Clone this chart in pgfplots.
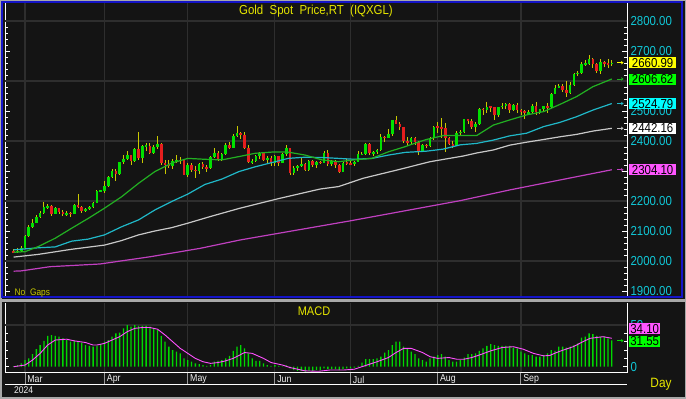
\documentclass[border=0pt]{standalone}
\usepackage{pgfplots}
\pgfplotsset{compat=1.18}
\usepackage{pgfplotstable}
\usepackage{fontspec}
\setmainfont{Liberation Sans}
\newfontfamily\uif{Liberation Sans}[FakeStretch=0.88]
\usetikzlibrary{arrows.meta}
\definecolor{bg}{HTML}{141414}
\definecolor{gridc}{HTML}{2E2E2E}
\definecolor{frameblue}{HTML}{1414C8}
\definecolor{outer}{HTML}{A8A8A8}
\definecolor{upc}{HTML}{00E000}
\definecolor{dnc}{HTML}{E61E1E}
\definecolor{wick}{HTML}{C8C800}
\definecolor{ma20}{HTML}{22B022}
\definecolor{ma50}{HTML}{20B8C8}
\definecolor{ma100}{HTML}{C8C8C8}
\definecolor{ma200}{HTML}{C040C0}
\definecolor{labc}{HTML}{10C8D8}
\definecolor{ttl}{HTML}{E6E600}
\definecolor{boxy}{HTML}{FFFF00}
\definecolor{boxg}{HTML}{00FF00}
\definecolor{boxc}{HTML}{00FFFF}
\definecolor{boxm}{HTML}{FF55FF}
\definecolor{histc}{HTML}{00D800}
\definecolor{sigc}{HTML}{FF50FF}

\pgfplotstableread{
i o h l c
0 2032 2040 2025 2030
1 2030 2042 2025 2034
2 2034 2050 2030 2044
3 2044 2088 2040 2083
4 2083 2119 2080 2114
5 2114 2141 2110 2128
6 2128 2152 2125 2148
7 2148 2165 2142 2160
8 2160 2195 2155 2179
9 2179 2189 2174 2182
10 2182 2185 2150 2158
11 2158 2180 2155 2175
12 2175 2178 2155 2162
13 2162 2170 2150 2156
14 2156 2165 2150 2160
15 2160 2163 2146 2157
16 2157 2190 2155 2186
17 2186 2222 2175 2181
18 2181 2183 2160 2166
19 2166 2176 2163 2172
20 2172 2184 2170 2179
21 2179 2196 2175 2194
22 2194 2236 2192 2233
23 2233 2236 2230 2234
24 2234 2266 2228 2251
25 2251 2284 2245 2280
26 2280 2305 2275 2300
27 2300 2305 2268 2291
28 2291 2331 2286 2330
29 2330 2354 2323 2339
30 2339 2365 2335 2352
31 2352 2354 2320 2333
32 2333 2378 2329 2372
33 2372 2431 2336 2344
34 2344 2385 2325 2383
35 2383 2394 2367 2383
36 2383 2393 2355 2361
37 2361 2385 2355 2379
38 2379 2417 2372 2391
39 2391 2392 2320 2327
40 2327 2335 2291 2322
41 2322 2337 2309 2316
42 2316 2339 2307 2332
43 2332 2352 2328 2337
44 2337 2348 2323 2335
45 2335 2336 2285 2286
46 2286 2325 2281 2320
47 2320 2326 2295 2303
48 2303 2318 2278 2301
49 2301 2326 2291 2323
50 2323 2330 2307 2314
51 2314 2320 2298 2309
52 2309 2351 2306 2346
53 2346 2378 2344 2360
54 2360 2365 2332 2336
55 2336 2360 2334 2358
56 2358 2393 2354 2386
57 2386 2398 2372 2376
58 2376 2422 2375 2415
59 2415 2450 2412 2425
60 2425 2431 2407 2420
61 2420 2429 2374 2378
62 2378 2386 2325 2329
63 2329 2340 2322 2334
64 2334 2352 2330 2350
65 2350 2363 2340 2361
66 2361 2364 2334 2338
67 2338 2350 2323 2343
68 2343 2349 2316 2327
69 2327 2353 2315 2350
70 2350 2351 2315 2326
71 2326 2359 2325 2355
72 2355 2388 2350 2375
73 2375 2378 2287 2294
74 2294 2315 2286 2311
75 2311 2320 2299 2316
76 2316 2342 2312 2324
77 2324 2328 2300 2304
78 2304 2336 2301 2333
79 2333 2335 2313 2319
80 2319 2333 2310 2329
81 2329 2333 2324 2328
82 2328 2365 2327 2360
83 2360 2369 2316 2322
84 2322 2335 2317 2334
85 2334 2336 2309 2320
86 2320 2323 2293 2298
87 2298 2330 2297 2327
88 2327 2340 2319 2326
89 2326 2335 2319 2322
90 2322 2333 2318 2330
91 2330 2365 2329 2356
92 2356 2363 2352 2356
93 2356 2393 2353 2391
94 2391 2393 2353 2359
95 2359 2366 2351 2364
96 2364 2374 2355 2371
97 2371 2424 2368 2414
98 2414 2418 2396 2411
99 2411 2440 2410 2422
100 2422 2470 2415 2469
101 2469 2483 2456 2458
102 2458 2464 2437 2445
103 2445 2446 2393 2400
104 2400 2412 2384 2396
105 2396 2412 2385 2409
106 2409 2412 2385 2397
107 2397 2401 2353 2364
108 2364 2390 2364 2386
109 2386 2391 2376 2384
110 2384 2412 2380 2410
111 2410 2451 2403 2447
112 2447 2463 2428 2446
113 2446 2477 2410 2443
114 2443 2461 2364 2409
115 2409 2412 2388 2391
116 2391 2400 2377 2383
117 2383 2432 2382 2428
118 2428 2436 2417 2431
119 2431 2473 2428 2472
120 2472 2474 2458 2466
121 2466 2474 2441 2447
122 2447 2462 2431 2456
123 2456 2509 2453 2507
124 2507 2510 2485 2504
125 2504 2531 2493 2514
126 2514 2514 2496 2512
127 2512 2512 2471 2485
128 2485 2513 2480 2512
129 2512 2528 2505 2518
130 2518 2527 2508 2524
131 2524 2526 2494 2504
132 2504 2523 2499 2521
133 2521 2525 2494 2503
134 2503 2506 2488 2500
135 2500 2504 2472 2493
136 2493 2503 2485 2495
137 2495 2523 2490 2516
138 2516 2529 2485 2497
139 2497 2508 2490 2506
140 2506 2517 2500 2516
141 2516 2525 2493 2512
142 2512 2560 2510 2558
143 2558 2586 2555 2578
144 2578 2590 2575 2582
145 2582 2589 2564 2569
146 2569 2600 2546 2559
147 2559 2596 2557 2586
148 2586 2625 2584 2622
149 2622 2634 2615 2628
150 2628 2664 2624 2657
151 2657 2670 2650 2657
152 2657 2685 2652 2672
153 2672 2675 2643 2658
154 2658 2659 2625 2634
155 2634 2673 2624 2662
156 2662 2666 2647 2658
157 2658 2672 2642 2656
158 2656 2669 2651 2661
}\ohlc

\pgfplotstableread{
i m
0 0.8
1 2
2 4
3 8
4 10
5 15
6 21
7 26
8 31
9 37
10 38
11 37
12 36
13 34
14 32
15 30
16 31
17 30
18 29
19 26
20 25
21 24
22 25
23 27
24 30
25 32
26 36
27 40
28 41
29 46
30 50
31 48
32 50
33 49
34 49
35 49
36 48
37 46
38 44
39 37
40 30
41 24
42 20
43 18
44 16
45 10
46 8
47 6
48 4
49 3
50 2
51 1
52 2
53 6
54 7
55 8
56 10
57 13
58 19
59 24
60 26
61 22
62 16
63 10
64 7
65 7
66 4
67 2
68 1
69 2
70 1
71 0.5
72 1.5
73 -2
74 -4
75 -5
76 -5
77 -6
78 -5
79 -5
80 -4
81 -4
82 -2
83 -3
84 -3
85 -3
86 -4
87 -3
88 -2
89 -2
90 -1
91 1
92 5
93 9
94 9
95 9
96 10
97 12
98 17
99 20
100 26
101 30
102 30
103 24
104 21
105 18
106 15
107 10
108 8
109 6
110 10
111 12
112 14
113 15
114 12
115 8
116 6
117 6
118 8
119 11
120 15
121 15
122 16
123 19
124 22
125 25
126 27
127 26
128 25
129 25
130 25
131 25
132 23
133 22
134 18
135 16
136 14
137 14
138 12
139 12
140 14
141 16
142 20
143 19
144 24
145 24
146 23
147 24
148 26
149 28
150 35
151 36
152 40
153 39
154 37
155 36
156 36
157 34
158 31.55
}\macd

\begin{document}
\begin{tikzpicture}[x=1pt,y=1pt]
\useasboundingbox (0,0) rectangle (686,399);
\fill[bg] (0,0) rectangle (686,399);

\begin{axis}[
  at={(5.2pt,395.5pt)}, anchor=north west,
  width=621.8pt, height=293.5pt, scale only axis,
  xmin=-2.229, xmax=162.01, ymin=1880, ymax=2858.3,
  clip=false,
  separate axis lines,
  x axis line style={draw=none},
  y axis line style={draw=white, line width=1pt},
  xtick={3,24,46,69,89,112,134}, xticklabels={},
  xtick style={draw=none},
  xmajorgrids,
  grid style={draw=gridc, line width=1.2pt},
  ytick={1900,2000,2100,2200,2300,2400,2500,2600,2700,2800},
  yticklabels={1900.00,2000.00,2100.00,2200.00,,2400.00,2500.00,,2700.00,2800.00},
  minor y tick num=4,
  ytick pos=both, yticklabel pos=right,
  tick align=inside,
  major tick length=5pt, minor tick length=3pt,
  every tick/.style={draw=white, line width=0.8pt},
  extra y ticks={2000,2200,2400,2600,2800},
  extra y tick labels={},
  extra y tick style={grid=major, major tick length=0pt},
  yticklabel style={font=\uif\fontsize{13}{15}\selectfont, text=labc},
]
% wicks
\addplot[draw=none, mark=none, error bars/.cd, y dir=both, y explicit, error mark=none,
  error bar style={draw=wick, line width=0.9pt}]
  table[x=i, y expr={(\thisrow{h}+\thisrow{l})/2}, y error expr={(\thisrow{h}-\thisrow{l})/2}] {\ohlc};
% up bodies
\addplot[draw=none, mark=none, restrict expr to domain={\thisrow{c}-\thisrow{o}}{0:1000},
  error bars/.cd, y dir=both, y explicit, error mark=none,
  error bar style={draw=upc, line width=2.6pt}]
  table[x=i, y expr={(\thisrow{o}+\thisrow{c})/2}, y error expr={max(abs(\thisrow{c}-\thisrow{o})/2,2)}] {\ohlc};
% down bodies
\addplot[draw=none, mark=none, restrict expr to domain={\thisrow{c}-\thisrow{o}}{-1000:-0.5},
  error bars/.cd, y dir=both, y explicit, error mark=none,
  error bar style={draw=dnc, line width=2.6pt}]
  table[x=i, y expr={(\thisrow{o}+\thisrow{c})/2}, y error expr={max(abs(\thisrow{c}-\thisrow{o})/2,2)}] {\ohlc};
% 200-day
\addplot[ma200, line width=1.2pt, mark=none] coordinates {
(0,1966) (2,1967) (9.6,1981) (22.8,1990) (36,2014) (49.2,2042) (59.8,2070) (89,2134) (117.9,2201) (131.1,2237) (144.3,2270) (158,2304.1)};
% 100-day
\addplot[ma100, line width=1.2pt, mark=none] coordinates {
(0,2013) (6.5,2022) (15.3,2039) (24,2053) (28.5,2068) (33,2087) (37.3,2100) (41.7,2111) (46,2126) (51.9,2148) (59.8,2176) (70,2208) (81,2240) (85.8,2248) (92.4,2276) (101.2,2303) (110,2331) (118.8,2350) (122.3,2360) (126.7,2370) (131,2386) (135.5,2396) (140,2405) (144.3,2414) (148.7,2422) (153,2433) (158,2442.2)};
% 50-day
\addplot[ma50, line width=1.2pt, mark=none] coordinates {
(0,2037) (6.5,2044) (11,2047) (15.3,2066) (19.7,2073) (24,2087) (28.5,2114) (33,2137) (37.3,2170) (41.7,2198) (46,2223) (50.5,2255) (55,2273) (59.5,2298) (63.8,2314) (68.2,2328) (72.5,2342) (77,2346) (81.4,2345) (85.8,2342) (90,2339) (94.6,2342) (99,2353) (103.4,2362) (109,2366) (113.5,2373) (117.9,2387) (122.3,2392) (126.7,2403) (131,2417) (135.5,2426) (140,2448) (144.3,2462) (148.7,2481) (153,2503) (158,2524.8)};
% 20-day
\addplot[ma20, line width=1.2pt, mark=none] coordinates {
(0,2029) (3,2031) (6.5,2048) (11,2076) (15.3,2109) (19.7,2142) (24,2176) (28.5,2214) (33,2259) (37.3,2298) (41.7,2326) (46,2342) (50.5,2339) (55,2337) (59.5,2348) (63.8,2359) (68.2,2363) (72.5,2363) (77,2353) (81.4,2337) (85.8,2331) (90,2337) (94.6,2342) (99,2364) (103.4,2381) (104.7,2387) (109,2405) (113.5,2418) (122.3,2418) (126.7,2453) (131,2470) (135.5,2487) (140,2498) (144.3,2522) (148.7,2548) (153,2581) (158,2606.6)};
% arrows
\draw[-{Stealth[length=2.5pt,width=3.5pt]}, line width=0.8pt, boxy] (axis cs:159.4,2660.99) -- (axis cs:161.1,2660.99);
\draw[-{Stealth[length=2.5pt,width=3.5pt]}, line width=0.8pt, ma20] (axis cs:159.4,2606.62) -- (axis cs:161.1,2606.62);
\draw[-{Stealth[length=2.5pt,width=3.5pt]}, line width=0.8pt, ma50] (axis cs:159.4,2524.79) -- (axis cs:161.1,2524.79);
\draw[-{Stealth[length=2.5pt,width=3.5pt]}, line width=0.8pt, ma100] (axis cs:159.4,2442.16) -- (axis cs:161.1,2442.16);
\draw[-{Stealth[length=2.5pt,width=3.5pt]}, line width=0.8pt, ma200] (axis cs:159.4,2304.10) -- (axis cs:161.1,2304.10);
% value boxes
\tikzset{vbox/.style={anchor=west, inner sep=0pt, minimum width=47pt, minimum height=11pt, text=black, font=\uif\fontsize{13}{15}\selectfont}}
\node[vbox, fill=boxy] at (axis cs:162.53,2660.99) {2660.99};
\node[vbox, fill=boxg] at (axis cs:162.53,2606.62) {2606.62};
\node[vbox, fill=boxc] at (axis cs:162.53,2524.79) {2524.79};
\node[vbox, fill=white] at (axis cs:162.53,2442.16) {2442.16};
\node[vbox, fill=boxm] at (axis cs:162.53,2304.10) {2304.10};
\end{axis}

\begin{axis}[
  at={(5.2pt,96pt)}, anchor=north west,
  width=621.8pt, height=69.7pt, scale only axis,
  xmin=-2.229, xmax=162.01, ymin=-7.19, ymax=76.4,
  clip=false,
  separate axis lines,
  x axis line style={draw=none},
  y axis line style={draw=white, line width=1pt},
  xtick={3,24,46,69,89,112,134},
  xticklabels={Mar,Apr,May,Jun,Jul,Aug,Sep},
  xtick style={draw=none},
  xtick pos=bottom,
  xticklabel style={anchor=west, inner sep=0pt, xshift=2.2pt, yshift=-6.8pt,
    font=\uif\fontsize{10}{12}\selectfont, text=white!88!gray},
  xmajorgrids,
  grid style={draw=gridc, line width=1.2pt},
  ytick={0,50},
  minor y tick num=4,
  ytick pos=both, yticklabel pos=right,
  tick align=inside,
  major tick length=4pt, minor tick length=3pt,
  every tick/.style={draw=white, line width=0.8pt},
  extra y ticks={50},
  extra y tick labels={},
  extra y tick style={grid=major, major tick length=0pt},
  /pgf/number format/assume math mode=true,
  yticklabel style={font=\uif\fontsize{13}{15}\selectfont, text=labc},
]
\addplot[ybar, bar width=1.3pt, fill=histc, draw=none] table[x=i, y=m] {\macd};
\addplot[sigc, line width=0.9pt, mark=none] coordinates {
(0,0) (3,2) (5,8) (7,16) (9,26) (11,32) (14,33) (16,31) (19,29) (21,26) (22,26) (24,28) (26,32) (28,36) (30,42) (32,46) (34,47) (36,47) (38,45) (40,38) (42,30) (44,22) (46,16) (48,10) (50,6) (52,4) (54,5) (56,7) (58,10) (61,17) (63,16) (66,10) (68,5) (71,2) (73,-1) (77,-5) (80.5,-5.5) (83.5,-4) (87,-4) (90,-3) (92,0) (96,6) (99,11) (101,17) (103,22) (105,22) (108,17) (110,12) (112,10) (115,11) (117,9) (119,9) (121,11) (123,14) (126,19) (129,23) (132,24) (134.6,21) (137.3,16) (140,13) (141.6,13.5) (143.4,17) (145.2,20) (147.8,24) (150.4,30) (152.2,34) (155.7,36) (158,34.1)};
\draw[-{Stealth[length=2.5pt,width=3.5pt]}, line width=0.8pt, histc] (axis cs:159.4,31.2) -- (axis cs:161.1,31.2);
\node[anchor=west, inner sep=0pt, minimum width=31pt, minimum height=11pt, text=black, fill=boxm, font=\uif\fontsize{13}{15}\selectfont] at (axis cs:162.53,45.4) {34.10};
\node[anchor=west, inner sep=0pt, minimum width=31pt, minimum height=11pt, text=black, fill=boxg, font=\uif\fontsize{13}{15}\selectfont] at (axis cs:162.53,30.6) {31.55};
\end{axis}

% frames and separators
\draw[outer, line width=1.5pt] (0.75,0.75) rectangle (685.25,398.25);
\draw[frameblue, line width=2pt] (2.2,101.7) rectangle (682,396.6);
\draw[outer, line width=2.4pt] (0,98.5) -- (686,98.5);
\draw[white, line width=1pt] (5,26.3) -- (627,26.3);
\draw[white, line width=1pt] (5,14.7) -- (627,14.7);
\foreach \xx in {25,104.5,187.8,274.9,350.6,437.7,520.9} {
  \draw[gray!80, line width=1pt] (\xx,26.3) -- (\xx,14.7);
}
% texts
\node[text=ttl, font=\uif\fontsize{13}{15}\selectfont, inner sep=0pt] at (316,388) {Gold\ \ Spot\ \ Price,RT\ \ (IQXGL)};
\node[text=wick, font=\uif\fontsize{9.5}{11}\selectfont, inner sep=0pt, anchor=west] at (14.5,106.3) {No\ \ Gaps};
\node[text=ttl, font=\uif\fontsize{12.5}{14}\selectfont, inner sep=0pt] at (314,87.5) {MACD};
\node[text=ttl, font=\uif\fontsize{13.5}{15}\selectfont, inner sep=0pt] at (661,15) {Day};
\node[text=white!88!gray, font=\uif\fontsize{9.7}{11}\selectfont, inner sep=0pt, anchor=west] at (14,9) {2024};
\end{tikzpicture}
\end{document}
